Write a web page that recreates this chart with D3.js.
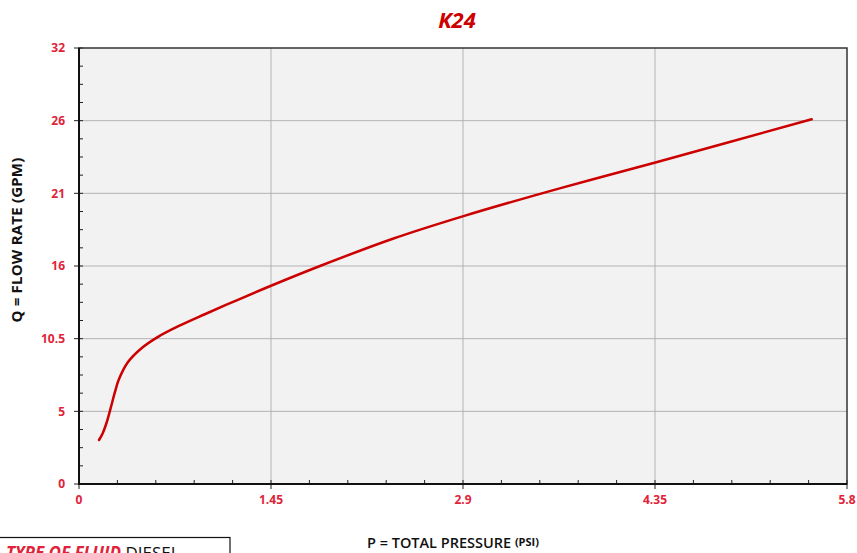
<!DOCTYPE html>
<html>
<head>
<meta charset="utf-8">
<script src="https://cdn.jsdelivr.net/npm/d3@7"></script>
<style>
  html, body { margin: 0; padding: 0; background: #fff; }
  svg { display: block; }
</style>
</head>
<body>
<script>
// curve: P (psi) vs Q (gpm)
const pressure = [0.151, 0.18, 0.21, 0.24, 0.27, 0.30, 0.37, 0.47, 0.60, 0.75, 0.95, 1.20, 1.45, 1.82, 2.37, 2.91, 3.63, 4.36, 5.533];
const flow     = [3.23, 3.75, 4.55, 5.60, 6.70, 7.65, 8.95, 9.95, 10.82, 11.58, 12.46, 13.52, 14.55, 16.00, 18.00, 19.68, 21.70, 23.62, 26.77];

const xTicks = [0, 1.45, 2.9, 4.35, 5.8];
const xTickLabels = ["0", "1.45", "2.9", "4.35", "5.8"];
const yTickLabels = ["0", "5", "10.5", "16", "21", "26", "32"];

const width = 857, height = 553;
const margin = { top: 48, right: 10, bottom: 69, left: 79 };
const innerWidth = width - margin.left - margin.right;
const innerHeight = height - margin.top - margin.bottom;
const red = "#cc0000";
const labelRed = "#e1233a";

const x = d3.scaleLinear().domain([0, 5.8]).range([0, innerWidth]);
const y = d3.scaleLinear().domain([0, 32]).range([innerHeight, 0]);
const yTicks = yTickLabels.map((d, i) => i * 32 / 6);

const svg = d3.select("body").append("svg")
  .attr("width", width)
  .attr("height", height)
  .style("font-family", "'Open Sans', sans-serif");

const g = svg.append("g")
  .attr("transform", `translate(${margin.left},${margin.top})`);

// background
g.append("rect")
  .attr("width", innerWidth)
  .attr("height", innerHeight)
  .attr("fill", "#f2f2f2");

// grid
g.append("g")
  .selectAll("line")
  .data(xTicks.slice(1, -1))
  .join("line")
    .attr("x1", d => x(d)).attr("x2", d => x(d))
    .attr("y1", 0).attr("y2", innerHeight)
    .attr("stroke", "#b3b3b3");

g.append("g")
  .selectAll("line")
  .data(yTicks.slice(1, -1))
  .join("line")
    .attr("x1", 0).attr("x2", innerWidth)
    .attr("y1", d => y(d)).attr("y2", d => y(d))
    .attr("stroke", "#b3b3b3");

// minor ticks (inside)
const xMinor = d3.range(0, 20).map(i => i * 0.29).filter((d, i) => i % 5 !== 0);
g.append("g")
  .selectAll("line")
  .data(xMinor)
  .join("line")
    .attr("x1", d => x(d)).attr("x2", d => x(d))
    .attr("y1", innerHeight).attr("y2", innerHeight - 4)
    .attr("stroke", "#222");

const yMinor = d3.range(0, 24).map(i => i * 32 / 24).filter((d, i) => i % 4 !== 0);
g.append("g")
  .selectAll("line")
  .data(yMinor)
  .join("line")
    .attr("x1", 0).attr("x2", 4)
    .attr("y1", d => y(d)).attr("y2", d => y(d))
    .attr("stroke", "#222");

// major ticks
g.append("g")
  .selectAll("line")
  .data(xTicks)
  .join("line")
    .attr("x1", d => x(d)).attr("x2", d => x(d))
    .attr("y1", innerHeight - 4).attr("y2", innerHeight + 5)
    .attr("stroke", "#222");

g.append("g")
  .selectAll("line")
  .data(yTicks)
  .join("line")
    .attr("x1", -5).attr("x2", 4)
    .attr("y1", d => y(d)).attr("y2", d => y(d))
    .attr("stroke", "#222");

// frame
g.append("rect")
  .attr("width", innerWidth)
  .attr("height", innerHeight)
  .attr("fill", "none")
  .attr("stroke", "#333")
  .attr("stroke-width", 1.5);
g.append("path")
  .attr("d", `M0,0V${innerHeight}H${innerWidth}`)
  .attr("fill", "none")
  .attr("stroke", "#111")
  .attr("stroke-width", 2);

// tick labels
g.append("g")
  .selectAll("text")
  .data(xTicks)
  .join("text")
    .attr("x", d => x(d))
    .attr("y", innerHeight + 20)
    .attr("text-anchor", "middle")
    .attr("fill", labelRed)
    .attr("font-size", 12)
    .attr("font-weight", 700)
    .text((d, i) => xTickLabels[i]);

g.append("g")
  .selectAll("text")
  .data(yTicks)
  .join("text")
    .attr("x", -14)
    .attr("y", d => y(d))
    .attr("dy", "0.35em")
    .attr("text-anchor", "end")
    .attr("fill", labelRed)
    .attr("font-size", 12)
    .attr("font-weight", 700)
    .text((d, i) => yTickLabels[i]);

// curve
const line = d3.line()
  .x((d, i) => x(pressure[i]))
  .y((d, i) => y(flow[i]))
  .curve(d3.curveCatmullRom.alpha(0.5));

g.append("path")
  .datum(pressure)
  .attr("d", line)
  .attr("fill", "none")
  .attr("stroke", red)
  .attr("stroke-width", 2.5)
  .attr("stroke-linecap", "round");

// title
svg.append("text")
  .attr("x", 457)
  .attr("y", 28)
  .attr("text-anchor", "middle")
  .attr("fill", red)
  .attr("font-size", 22)
  .attr("font-weight", 700)
  .attr("font-style", "italic")
  .text("K24");

// axis titles
svg.append("text")
  .attr("transform", "translate(22,240) rotate(-90)")
  .attr("text-anchor", "middle")
  .attr("fill", "#111")
  .attr("font-size", 15)
  .attr("font-weight", 700)
  .attr("letter-spacing", 0.2)
  .text("Q = FLOW RATE (GPM)");

const xt = svg.append("text")
  .attr("x", 367)
  .attr("y", 548)
  .attr("fill", "#111")
  .attr("font-size", 14.5)
  .attr("font-weight", 600);
xt.append("tspan").text("P = TOTAL PRESSURE ");
xt.append("tspan").attr("font-size", 11).attr("font-weight", 700).attr("dy", -2).text("(PSI)");

// fluid box
svg.append("rect")
  .attr("x", -2)
  .attr("y", 537.5)
  .attr("width", 232)
  .attr("height", 40)
  .attr("fill", "#fff")
  .attr("stroke", "#111")
  .attr("stroke-width", 1.2);

const ft = svg.append("text")
  .attr("x", 6)
  .attr("y", 559)
  .attr("font-size", 17);
ft.append("tspan")
  .attr("fill", labelRed)
  .attr("font-weight", 700)
  .attr("font-style", "italic")
  .text("TYPE OF FLUID ");
ft.append("tspan")
  .attr("fill", "#111")
  .text("DIESEL");
</script>
</body>
</html>
